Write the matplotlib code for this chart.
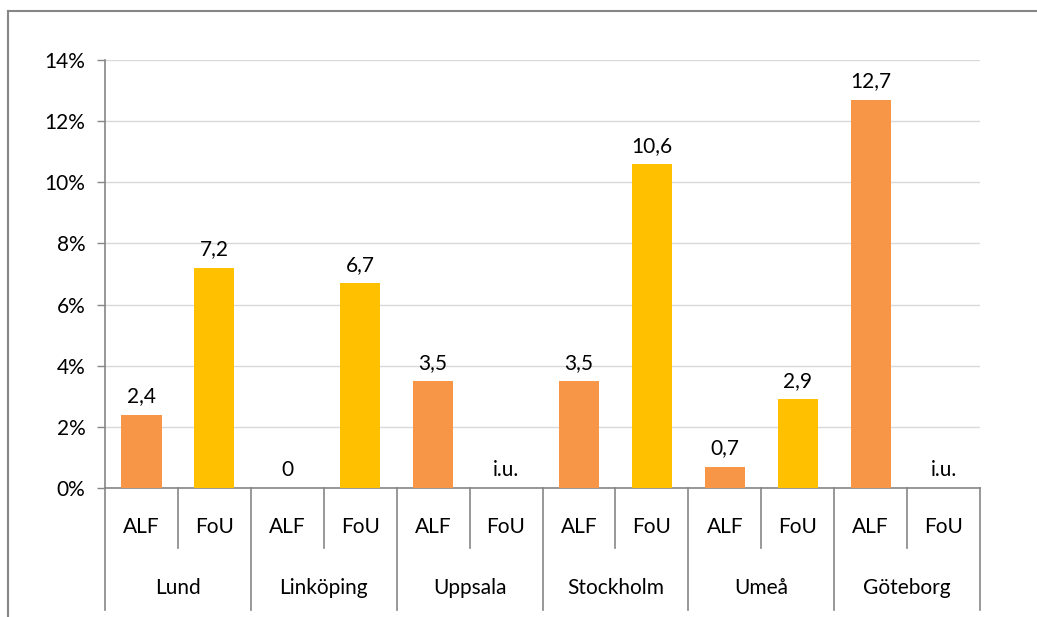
import numpy as np
import matplotlib
matplotlib.use("Agg")
import matplotlib.pyplot as plt
from matplotlib.lines import Line2D

plt.rcParams['font.family'] = ['Lato', 'DejaVu Sans']

# data (values in percent)
cities = ["Lund", "Linköping", "Uppsala", "Stockholm", "Umeå", "Göteborg"]
kinds = ["ALF", "FoU"]
alf = [2.4, 0.0, 3.5, 3.5, 0.7, 12.7]
fou = [7.2, 6.7, None, 10.6, 2.9, None]
yticks = [0, 2, 4, 6, 8, 10, 12, 14]

ALF_COLOR = "#F79646"
FOU_COLOR = "#FFC000"
AXIS_GRAY = "#868686"
GRID_GRAY = "#D9D9D9"
FS = 15

W, H = 1037, 617
fig = plt.figure(figsize=(W / 100, H / 100), dpi=100)

# outer chart frame (top and left edges visible)
fig.add_artist(Line2D([8 / W, 8 / W], [0, 1 - 11 / H], color=AXIS_GRAY, lw=1.5, transform=fig.transFigure))
fig.add_artist(Line2D([8 / W, 1], [1 - 11 / H, 1 - 11 / H], color=AXIS_GRAY, lw=1.5, transform=fig.transFigure))

left, right, top, bottom = 105, 980, 60, 488
ax = fig.add_axes([left / W, 1 - bottom / H, (right - left) / W, (bottom - top) / H])

n = len(cities) * 2
xs = np.arange(n)
vals = []
cols = []
for a, f in zip(alf, fou):
    vals += [a, f]
    cols += [ALF_COLOR, FOU_COLOR]

heights = [v if v is not None else 0 for v in vals]
ax.bar(xs, heights, width=0.55, color=cols, zorder=3)

for x, v in zip(xs, vals):
    if v is None:
        lab, y = "i.u.", 0
    else:
        lab, y = f"{v:.1f}".replace(".", ",") if v != 0 else "0", v
    ax.annotate(lab, (x, y), xytext=(0, 6), textcoords="offset points",
                ha="center", va="bottom", fontsize=FS, color="black")

ax.set_xlim(-0.5, n - 0.5)
ax.set_ylim(0, 14)
ax.set_yticks(yticks)
ax.set_yticklabels([f"{t}%" for t in yticks], fontsize=FS)
ax.tick_params(axis="y", length=6, width=1, color=AXIS_GRAY, pad=8)
ax.set_xticks([])
ax.grid(axis="y", color=GRID_GRAY, lw=1, zorder=0)
for s in ["top", "right"]:
    ax.spines[s].set_visible(False)
for s in ["left", "bottom"]:
    ax.spines[s].set_color(AXIS_GRAY)
    ax.spines[s].set_linewidth(1.2)

# multi-level category axis
trans = ax.get_xaxis_transform()
px = 1.0 / (bottom - top)
for b in range(n + 1):
    xb = b - 0.5
    depth = 122 if b % 2 == 0 else 60
    ax.add_line(Line2D([xb, xb], [0, -depth * px], color=AXIS_GRAY, lw=1.2,
                       transform=trans, clip_on=False))
for i, x in enumerate(xs):
    ax.text(x, -39 * px, kinds[i % 2], transform=trans, ha="center", va="center", fontsize=FS)
for i, c in enumerate(cities):
    ax.text(2 * i + 0.5, -100 * px, c, transform=trans, ha="center", va="center", fontsize=FS)

fig.savefig("out.png", dpi=100)
